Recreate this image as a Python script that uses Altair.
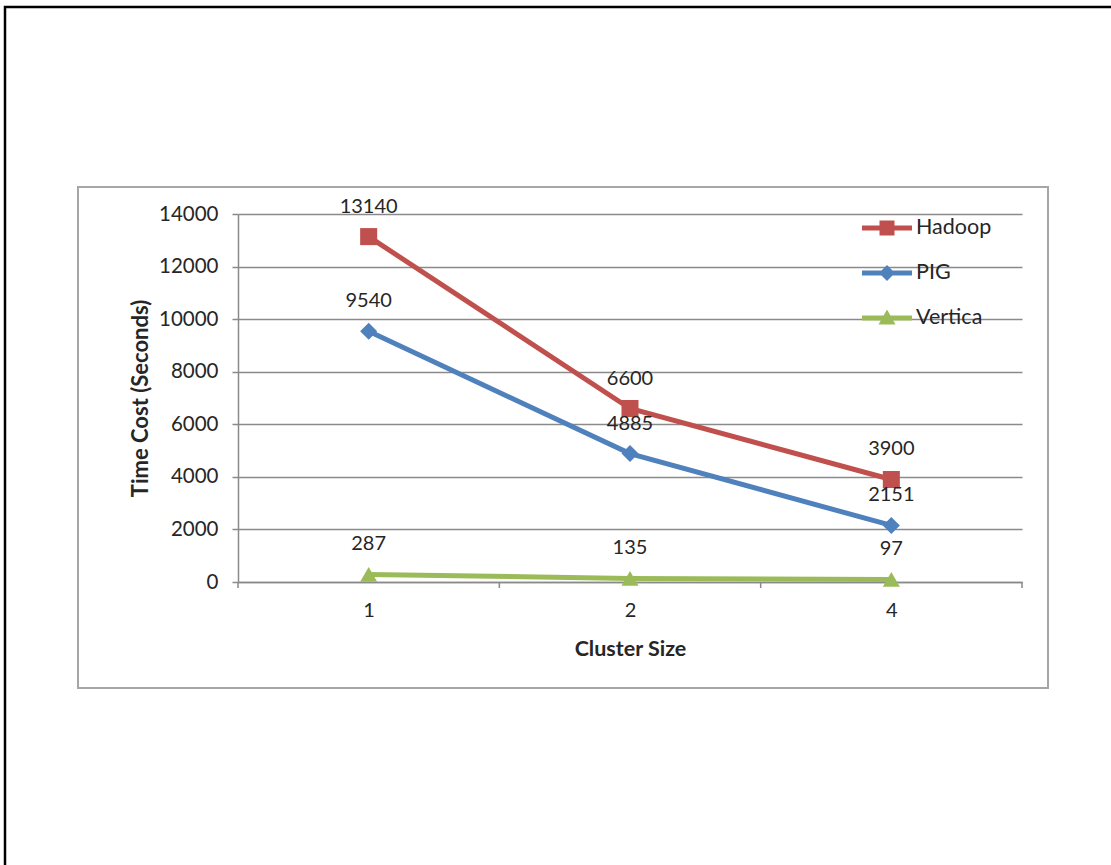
import json
import altair as alt
import pandas as pd

# ---- data ----
cluster_sizes = ["1", "2", "4"]
series_names = ["Hadoop", "PIG", "Vertica"]
hadoop = [13140, 6600, 3900]
pig = [9540, 4885, 2151]
vertica = [287, 135, 97]
series_colors = ["#C0504D", "#4F81BD", "#9BBB59"]
y_tick_values = [0, 2000, 4000, 6000, 8000, 10000, 12000, 14000]

values_by_series = {"Hadoop": hadoop, "PIG": pig, "Vertica": vertica}
rows = []
for s in series_names:
    for i, (c, v) in enumerate(zip(cluster_sizes, values_by_series[s])):
        rows.append({"idx": i + 1, "size": c, "series": s, "value": v})
df = pd.DataFrame(rows)
bounds_df = pd.DataFrame({"idx": [i + 0.5 for i in range(len(cluster_sizes) + 1)]})

FONT = "Lato"
TXT = "#262626"
GRID = "#8a8a8a"
W, H = 784, 368

label_expr = json.dumps(cluster_sizes) + "[datum.value - 1]"

X = alt.X(
    "idx:Q",
    scale=alt.Scale(domain=[0.5, len(cluster_sizes) + 0.5], nice=False, zero=False),
    axis=alt.Axis(
        values=list(range(1, len(cluster_sizes) + 1)),
        labelExpr=label_expr,
        ticks=False,
        grid=False,
        domainColor=GRID,
        domainWidth=1.5,
        labelFont=FONT,
        labelFontSize=20,
        labelColor=TXT,
        labelPadding=18,
        labelBaseline="top",
        title="Cluster Size",
        titleFont=FONT,
        titleFontSize=21.5,
        titleFontWeight="bold",
        titleColor=TXT,
        titleY=67,
        titleBaseline="middle",
    ),
)
Y = alt.Y(
    "value:Q",
    scale=alt.Scale(domain=[0, 14000], nice=False),
    axis=alt.Axis(
        values=y_tick_values,
        format="d",
        grid=True,
        gridColor=GRID,
        gridWidth=1.5,
        domainColor=GRID,
        domainWidth=1.5,
        tickColor=GRID,
        tickWidth=1.5,
        tickSize=6,
        labelFont=FONT,
        labelFontSize=20.5,
        labelColor=TXT,
        labelPadding=14,
        title="Time Cost (Seconds)",
        titleFont=FONT,
        titleFontSize=22,
        titleFontWeight="bold",
        titleColor=TXT,
        titleX=-98,
        titleY=H / 2,
        titleAlign="center",
        titleBaseline="middle",
    ),
)

color_scale = alt.Scale(domain=series_names, range=series_colors)

frame_data = alt.Data(values=[{"k": 1}])
outer_frame = alt.Chart(frame_data).mark_rect(
    fill=None, stroke="#000000", strokeWidth=2.5
).encode(
    x=alt.value(-233), x2=alt.value(W + 120), y=alt.value(-207), y2=alt.value(H + 320)
)
chart_box = alt.Chart(frame_data).mark_rect(
    fill=None, stroke="#a6a6a6", strokeWidth=2
).encode(
    x=alt.value(-160), x2=alt.value(810), y=alt.value(-27), y2=alt.value(474)
)

base = alt.Chart(df)

x_ticks = alt.Chart(bounds_df).mark_rule(color=GRID, strokeWidth=1.5).encode(
    x=X, y=alt.value(H), y2=alt.value(H + 6)
)

lines = base.mark_line(strokeWidth=5).encode(
    x=X, y=Y,
    color=alt.Color("series:N", scale=color_scale, legend=None),
    detail="series:N",
)
points = base.mark_point(filled=True, opacity=1).encode(
    x=X, y=Y,
    color=alt.Color("series:N", scale=color_scale, legend=None),
    shape=alt.Shape("series:N",
                    scale=alt.Scale(domain=series_names, range=["square", "diamond", "triangle-up"]),
                    legend=None),
    size=alt.value(290),
)
labels = base.mark_text(dy=-30, font=FONT, fontSize=20, color=TXT).encode(
    x=X, y=Y, text=alt.Text("value:Q", format="d")
)

legend_paths = [
    "M-1,-0.1H1V0.1H-1Z M-0.3,-0.3H0.3V0.3H-0.3Z",
    "M-1,-0.1H1V0.1H-1Z M0,-0.32L0.32,0L0,0.32L-0.32,0Z",
    "M-1,-0.1H1V0.1H-1Z M0,-0.34L0.34,0.26L-0.34,0.26Z",
]
leg = alt.Legend(
    title=None,
    orient="none",
    legendX=624,
    legendY=-11,
    padding=0,
    symbolSize=2500,
    symbolStrokeWidth=0,
    symbolOpacity=1,
    labelFont=FONT,
    labelFontSize=21.5,
    labelColor=TXT,
    labelOffset=4,
    rowPadding=9,
)
legend_layer = base.mark_point(filled=True, opacity=0).encode(
    x=X, y=Y,
    color=alt.Color("series:N", scale=color_scale, legend=leg),
    shape=alt.Shape("series:N", scale=alt.Scale(domain=series_names, range=legend_paths), legend=leg),
)

chart = alt.layer(
    outer_frame, chart_box, x_ticks, lines, points, labels, legend_layer
).resolve_scale(
    color="independent", shape="independent"
).properties(
    width=W,
    height=H,
    padding={"left": 238, "top": 214, "right": 89, "bottom": 283},
    autosize=alt.AutoSizeParams(type="none"),
    background="#ffffff",
).configure_view(stroke=None)

chart.save("out.html", embed_options={"renderer": "svg", "actions": False})
